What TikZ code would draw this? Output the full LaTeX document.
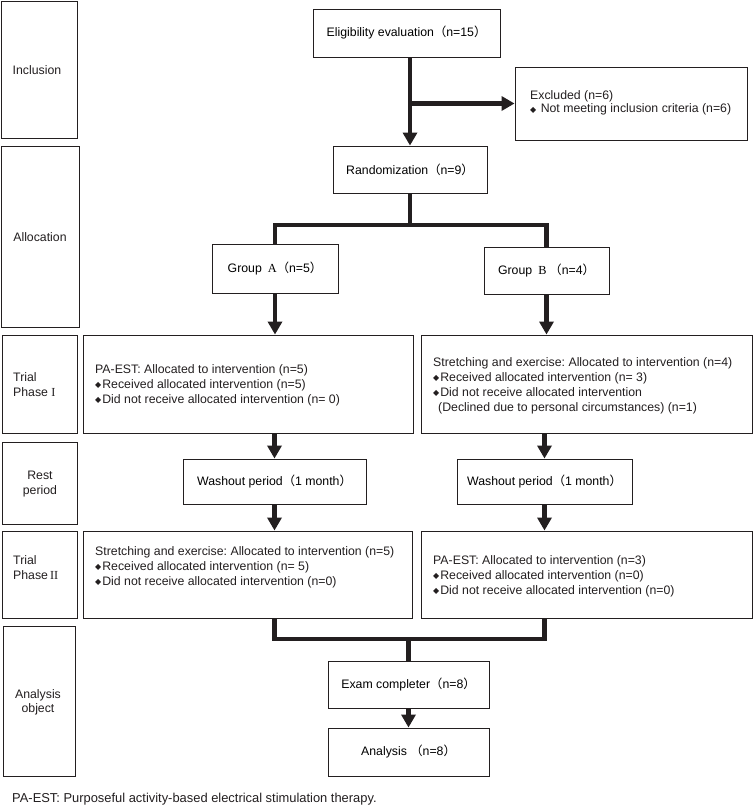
\documentclass[tikz,border=0pt]{standalone}
\usepackage{fontspec}
\setmainfont{Liberation Sans}
\newfontfamily\cjkfw{Noto Sans CJK SC}
\newfontfamily\serifrm{Liberation Serif}
\newfontfamily\dejavufnt{DejaVu Sans}
\usetikzlibrary{arrows.meta,calc}
\definecolor{lc}{RGB}{35,31,32}
\newcommand{\fwlp}{{\cjkfw （}}
\newcommand{\fwrp}{{\cjkfw ）}}
\newcommand{\dia}{\raisebox{0.4pt}{\dejavufnt\fontsize{8}{8}\selectfont ◆}\hspace{1pt}}
\begin{document}
\frenchspacing
\begin{tikzpicture}[x=1pt,y=-1pt,
  box/.style={draw=lc, line width=0.9pt, inner sep=0pt, font=\fontsize{12.3}{15}\selectfont},
  txt/.style={inner sep=0pt, align=left, text=lc, font=\fontsize{12.3}{15}\selectfont},
  ctxt/.style={inner sep=0pt, align=center, text=lc, font=\fontsize{12.3}{15}\selectfont},
  conn/.style={draw=lc, line width=4.5pt},
  arr/.style={conn, -{Triangle[width=14pt,length=13pt]}}]
\fill[white] (0,0) rectangle (753,807);
\useasboundingbox (0,0) rectangle (753,807);

% stage label boxes
\node[box, minimum width=76pt, minimum height=137pt] (labInc) at (39,69.5) {};
\node[ctxt] (tInc) at (37,70) {Inclusion};
\node[box, minimum width=78pt, minimum height=181pt] (labAlloc) at (40,236.5) {};
\node[ctxt] (tAlloc) at (40,237) {Allocation};
\node[box, minimum width=75pt, minimum height=98pt] (labP1) at (39.5,384) {};
\node[txt, anchor=west] (tP1) at (13,385) {Trial\\Phase {\serifrm I}};
\node[box, minimum width=75pt, minimum height=82pt] (labRest) at (39.5,483) {};
\node[ctxt] (tRest) at (40,484.5) {Rest\\period};
\node[box, minimum width=75pt, minimum height=87pt] (labP2) at (39.5,574.5) {};
\node[txt, anchor=west] (tP2) at (13,568) {Trial\\Phase\,{\serifrm II}};
\node[box, minimum width=72pt, minimum height=150pt] (labAna) at (39,701) {};
\node[ctxt, font=\fontsize{12.3}{14}\selectfont] (tAna) at (38,702) {Analysis\\object};

% flow boxes
\node[box, minimum width=187pt, minimum height=48pt] (elig) at (406.5,33) {Eligibility evaluation\fwlp n=15\fwrp};
\node[box, minimum width=232pt, minimum height=73pt] (excl) at (631,103.5) {};
\node[txt, anchor=west, font=\fontsize{12.3}{13}\selectfont] (texcl) at (530,103) {Excluded (n=6)\\\dia\ Not meeting inclusion criteria (n=6)};
\node[box, minimum width=154pt, minimum height=47pt] (rand) at (410,169.5) {Randomization\fwlp n=9\fwrp};
\node[box, minimum width=126pt, minimum height=49pt] (grpA) at (275,268.5) {Group\hspace{6pt}{\serifrm A}\fwlp n=5\fwrp};
\node[box, minimum width=125pt, minimum height=47pt] (grpB) at (546.5,270.5) {Group\hspace{6pt}{\serifrm B}\hspace{3pt}\fwlp n=4\fwrp};

\node[box, minimum width=330pt, minimum height=98pt] (p1A) at (248,384) {};
\node[txt, anchor=west] (tp1A) at (95,385) {PA-EST: Allocated to intervention (n=5)\\
\dia Received allocated intervention (n=5)\\
\dia Did not receive allocated intervention (n= 0)};
\node[box, minimum width=331pt, minimum height=98pt] (p1B) at (586.5,384) {};
\node[txt, anchor=west] (tp1B) at (433,385.5) {Stretching and exercise: Allocated to intervention (n=4)\\
\dia Received allocated intervention (n= 3)\\
\dia Did not receive allocated intervention\\
\hspace*{5pt}(Declined due to personal circumstances) (n=1)};

\node[box, minimum width=183pt, minimum height=45pt] (washA) at (274.5,481.5) {Washout period\fwlp 1 month\fwrp};
\node[box, minimum width=175pt, minimum height=45pt] (washB) at (544.5,481.5) {Washout period\fwlp 1 month\fwrp};

\node[box, minimum width=329pt, minimum height=87pt] (p2A) at (247.5,574.5) {};
\node[txt, anchor=west] (tp2A) at (95,567) {Stretching and exercise: Allocated to intervention (n=5)\\
\dia Received allocated intervention (n= 5)\\
\dia Did not receive allocated intervention (n=0)};
\node[box, minimum width=331pt, minimum height=87pt] (p2B) at (586.5,574.5) {};
\node[txt, anchor=west] (tp2B) at (433,576) {PA-EST: Allocated to intervention (n=3)\\
\dia Received allocated intervention (n=0)\\
\dia Did not receive allocated intervention (n=0)};

\node[box, minimum width=161pt, minimum height=47pt] (exam) at (408.5,684.5) {Exam completer\fwlp n=8\fwrp};
\node[box, minimum width=161pt, minimum height=48pt] (ana) at (408.5,752) {Analysis \fwlp n=8\fwrp};

\node[txt, anchor=west, font=\fontsize{12.9}{15}\selectfont] (foot) at (12,799) {PA-EST: Purposeful activity-based electrical stimulation therapy.};

% connectors
\draw[arr] (rand.north |- elig.south) -- (rand.north);
\draw[arr] (rand.north |- excl.west) -- (excl.west);
\coordinate (sp) at (410,225);
\draw[conn] (rand.south) -- (rand.south |- sp);
\draw[conn] (grpA.north) -- (grpA.north |- sp) -- (grpB.north |- sp) -- (grpB.north);
\draw[arr] (grpA.south) -- (grpA.south |- p1A.north);
\draw[arr] (grpB.south) -- (grpB.south |- p1B.north);
\draw[arr] (washA.north |- p1A.south) -- (washA.north);
\draw[arr] (washB.north |- p1B.south) -- (washB.north);
\draw[arr] (washA.south) -- (washA.south |- p2A.north);
\draw[arr] (washB.south) -- (washB.south |- p2B.north);
\coordinate (mg) at (410,639);
\draw[conn] (washA.south |- p2A.south) -- (washA.south |- mg) -- (washB.south |- mg) -- (washB.south |- p2B.south);
\draw[conn] (exam.north |- mg) -- (exam.north);
\draw[arr] (exam.south) -- (ana.north);
\end{tikzpicture}
\end{document}
